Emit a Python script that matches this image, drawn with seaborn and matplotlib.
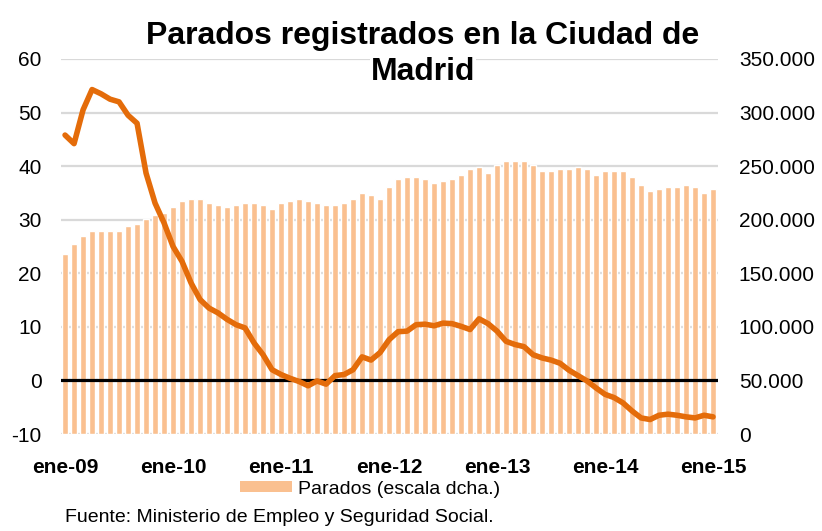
import numpy as np
import matplotlib
matplotlib.use("Agg")
import matplotlib.pyplot as plt
import matplotlib.ticker as mticker
from matplotlib.patches import Patch
import seaborn as sns

# meses ene-09 .. ene-15
meses = [f"{m}-{a:02d}" for a in range(9, 16) for m in
         ["ene", "feb", "mar", "abr", "may", "jun", "jul", "ago", "sep", "oct", "nov", "dic"]][:73]

# parados registrados (escala dcha.)
parados = [168000, 177000, 184400, 189700, 189700, 189700, 189700, 193700, 195600, 200900,
           204600, 206400, 212000, 217600, 219500, 219500, 215700, 213900, 212000, 213900,
           215700, 215700, 213900, 210200, 215700, 217600, 219500, 217600, 215700, 213900,
           213900, 215700, 219500, 225000, 223200, 219500, 230600, 238100, 239900, 239900,
           238100, 234300, 236200, 238100, 241800, 247400, 249200, 243600, 251100, 254800,
           254800, 254800, 251100, 245500, 245500, 247400, 247400, 249200, 247400, 241800,
           245500, 245500, 245500, 239900, 232500, 226900, 228800, 230600, 230600, 232500,
           230600, 225000, 228800]

# variación interanual (%) (escala izda.)
variacion = [45.8, 44.2, 50.5, 54.3, 53.5, 52.5, 52.0, 49.5, 48.0, 38.7,
             33.1, 29.4, 25.0, 22.2, 18.2, 15.1, 13.5, 12.6, 11.4, 10.4,
             9.8, 7.0, 4.8, 2.0, 1.1, 0.4, -0.2, -1.0, -0.1, -0.7,
             0.9, 1.1, 2.0, 4.4, 3.8, 5.2, 7.6, 9.1, 9.2, 10.4,
             10.5, 10.2, 10.7, 10.6, 10.1, 9.5, 11.5, 10.6, 9.2, 7.3,
             6.7, 6.3, 4.8, 4.2, 3.8, 3.2, 1.9, 0.9, -0.1, -1.4,
             -2.6, -3.2, -4.2, -5.7, -7.0, -7.3, -6.5, -6.3, -6.5, -6.8,
             -7.0, -6.5, -6.8]

etiquetas_x = ["ene-09", "ene-10", "ene-11", "ene-12", "ene-13", "ene-14", "ene-15"]

sns.set_theme(style="white")
plt.rcParams["font.family"] = ["Liberation Sans", "DejaVu Sans"]
plt.rcParams["axes.unicode_minus"] = False
plt.rcParams["text.color"] = "black"
plt.rcParams["xtick.color"] = "black"
plt.rcParams["ytick.color"] = "black"

color_barra = "#FAC090"
color_linea = "#E46C0A"

fig = plt.figure(figsize=(8.22, 5.31), dpi=100)
ax = fig.add_axes([61 / 822, 97 / 531, 657 / 822, 375 / 531])

sns.barplot(x=meses, y=parados, color=color_barra, width=0.6, saturation=1,
            ax=ax, zorder=2)
ax.set_ylim(0, 350000)
ax.set_yticks(np.arange(0, 350001, 50000))
ax.yaxis.set_major_formatter(mticker.FuncFormatter(lambda v, p: f"{int(v):,}".replace(",", ".")))
ax.grid(axis="y", color="#D9D9D9", lw=1.6, zorder=0)
ax.set_axisbelow(True)

ax2 = ax.twinx()
ax2.axhline(0, color="black", lw=2.3, zorder=2)
sns.lineplot(x=np.arange(len(variacion)), y=variacion, color=color_linea, lw=4,
             ax=ax2, zorder=3, solid_capstyle="round", solid_joinstyle="round")
ax2.set_ylim(-10, 60)
ax2.set_yticks(np.arange(-10, 61, 10))

# barras a la derecha, línea a la izquierda
ax.yaxis.tick_right()
ax2.yaxis.tick_left()

ax.set_xlim(-0.45, 72.55)
ax.set_xticks(range(0, 73, 12))
ax.set_xticklabels(etiquetas_x, fontweight="bold", fontsize=15)
ax.tick_params(axis="x", length=0, pad=17)
ax.tick_params(axis="y", length=0, pad=15, labelsize=15)
ax2.tick_params(axis="y", length=0, pad=14, labelsize=15)
for a in (ax, ax2):
    for s in a.spines.values():
        s.set_visible(False)
    a.set_xlabel("")
    a.set_ylabel("")

fig.text(423 / 822, 1 - 44 / 531, "Parados registrados en la Ciudad de",
         ha="center", va="baseline", fontsize=23, fontweight="bold")
fig.text(423 / 822, 1 - 80 / 531, "Madrid", ha="center", va="baseline",
         fontsize=23, fontweight="bold", zorder=10,
         bbox=dict(facecolor="white", edgecolor="none", pad=1))

fig.legend(handles=[Patch(facecolor=color_barra, edgecolor="none", label="Parados (escala dcha.)")],
           loc="center", bbox_to_anchor=(370 / 822, 1 - 489 / 531), frameon=False,
           fontsize=14, handlelength=2.7, handleheight=0.5, handletextpad=0.3)

fig.text(65 / 822, 1 - 518 / 531, "Fuente: Ministerio de Empleo y Seguridad Social.",
         ha="left", va="center", fontsize=14)

fig.savefig("out.png", dpi=100)
